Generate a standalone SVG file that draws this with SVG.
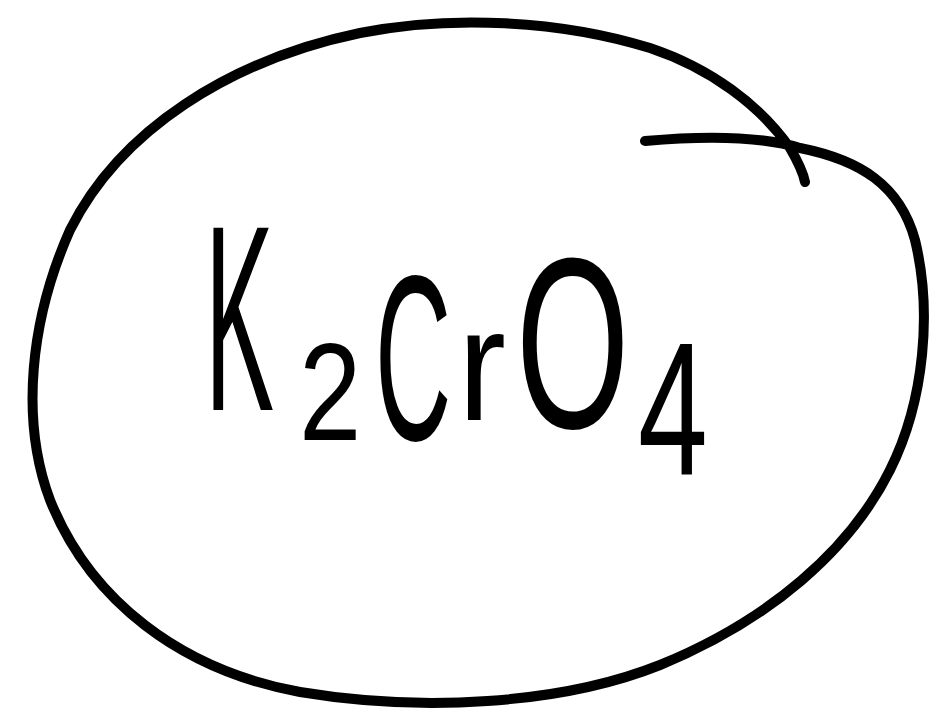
<svg xmlns="http://www.w3.org/2000/svg" width="940" height="722" viewBox="0 0 940 722">
<style>
.loop{fill:none;stroke:#000;stroke-width:10;stroke-linecap:round;stroke-linejoin:round}
.lbl{font-family:"Liberation Sans","DejaVu Sans",sans-serif;fill:#000}
</style>
<rect width="940" height="722" fill="#fff"/>
<g id="node-k2cro4">
<path class="loop" d="M645,141 C700,136 760,136 800,148 C860,160 900,185 915,240 C932,310 925,400 890,470 C850,550 770,620 660,665 C560,705 420,712 300,692 C180,670 90,600 50,500 C20,420 30,320 70,230 C120,130 230,60 360,33 C450,15 560,20 650,48 C710,68 760,105 790,148 C797,160 803,172 805,182"/>
<g id="label">
<text class="lbl" font-size="265" transform="translate(205,410) scale(0.39,1)">K</text>
<text class="lbl" font-size="140" transform="translate(299,440) scale(0.8,1)">2</text>
<text class="lbl" font-size="235" transform="translate(375,440) scale(0.45,1)">C</text>
<text class="lbl" font-size="160" transform="translate(458,420) scale(0.9,1)">r</text>
<text class="lbl" font-size="243" transform="translate(516,428) scale(0.6,1)">O</text>
<text class="lbl" font-size="190" transform="translate(638,475) scale(0.66,1)">4</text>
</g>
</g>
</svg>
